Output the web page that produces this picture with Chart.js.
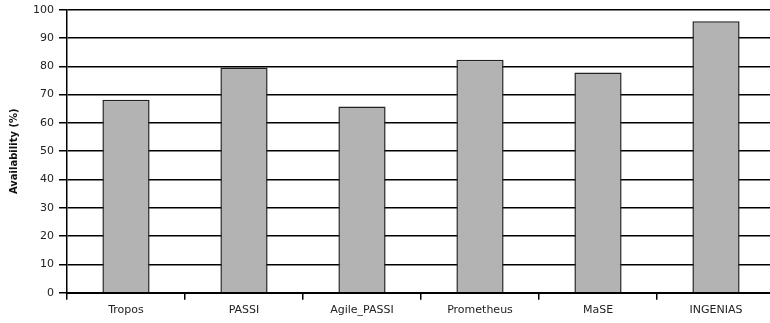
<!DOCTYPE html>
<html>
<head>
<meta charset="utf-8">
<script src="https://cdn.jsdelivr.net/npm/chart.js@4"></script>
<style>
  html, body { margin: 0; padding: 0; background: #fff; overflow: hidden; }
  #wrap { width: 775px; height: 323px; }
</style>
</head>
<body>
<div id="wrap"><canvas id="myChart"></canvas></div>
<script>
const categories = ["Tropos", "PASSI", "Agile_PASSI", "Prometheus", "MaSE", "INGENIAS"];
const availability = [68.2, 79.6, 65.8, 82.3, 77.8, 95.9];
const yTitle = "Availability (%)";

let ctx = document.getElementById("myChart").getContext("2d");
let chart = new Chart(ctx, {
  type: "bar",
  data: {
    labels: categories,
    datasets: [
      {
        label: yTitle,
        data: availability,
        backgroundColor: "#b3b3b3",
        borderColor: "#222",
        borderWidth: 1.5,
        categoryPercentage: 1,
        barPercentage: 0.4,
      },
    ],
  },
  options: {
    responsive: true,
    maintainAspectRatio: false,
    animation: false,
    layout: { padding: { top: 0, right: 0, left: 8, bottom: 2 } },
    plugins: {
      legend: { display: false },
      tooltip: { enabled: false },
    },
    scales: {
      x: {
        grid: {
          offset: true,
          drawOnChartArea: false,
          drawTicks: true,
          tickLength: 7,
          color: "#000",
          lineWidth: 1.5,
        },
        border: { color: "#000", width: 2 },
        ticks: {
          color: "#222",
          font: { family: "DejaVu Sans", size: 11 },
          padding: 4,
        },
      },
      y: {
        min: 0,
        max: 100,
        ticks: {
          stepSize: 10,
          color: "#222",
          font: { family: "DejaVu Sans", size: 11, lineHeight: 0.85 },
          padding: 5,
        },
        grid: {
          color: "#000",
          lineWidth: 1.5,
          tickLength: 8,
        },
        border: { color: "#000", width: 1.5 },
        title: {
          display: true,
          text: yTitle,
          color: "#111",
          font: { family: "DejaVu Sans", size: 10, weight: "bold" },
          padding: { top: 0, bottom: 8 },
        },
      },
    },
  },
});
</script>
</body>
</html>
